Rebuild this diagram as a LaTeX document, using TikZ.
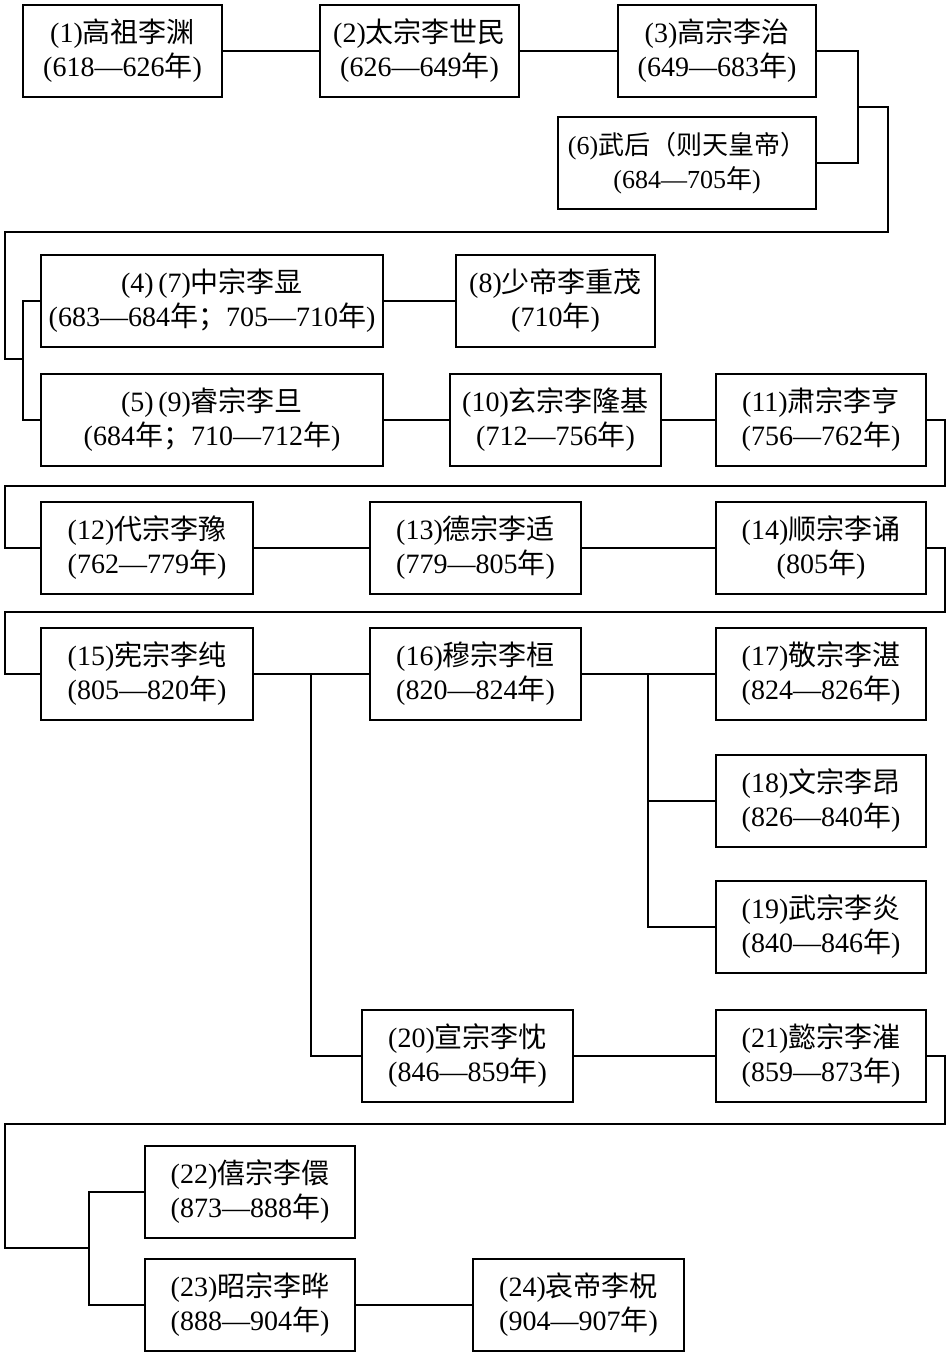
\documentclass[tikz,border=0pt]{standalone}
\usepackage{fontspec}
\setmainfont{Liberation Serif}
\newfontfamily\cjk{Noto Sans CJK SC}
\newcommand\zw[1]{{\cjk #1}}
\tikzset{
  box/.style={draw, line width=1.9pt, minimum height=92pt, inner sep=0pt, align=center,
    font=\fontsize{28}{34}\selectfont},
  link/.style={line width=1.6pt},
}
\begin{document}
\begin{tikzpicture}[x=1pt,y=-1pt]
\useasboundingbox (0,0) rectangle (950,1356);
% row 1
\node[box, minimum width=199pt] (b1) at (122.5,51) {(1)\zw{高祖李渊}\\(618—626\zw{年})};
\node[box, minimum width=199pt] (b2) at (419.5,51) {(2)\zw{太宗李世民}\\(626—649\zw{年})};
\node[box, minimum width=198pt] (b3) at (717,51) {(3)\zw{高宗李治}\\(649—683\zw{年})};
\node[box, minimum width=258pt, font=\fontsize{26}{34}\selectfont] (b6) at (687,163) {(6)\zw{武后（则天皇帝）}\\(684—705\zw{年})};
% row 2
\node[box, minimum width=342pt] (b4) at (212,301) {(4)\,(7)\zw{中宗李显}\\(683—684\zw{年；}705—710\zw{年})};
\node[box, minimum width=199pt] (b8) at (555.5,301) {(8)\zw{少帝李重茂}\\(710\zw{年})};
% row 3
\node[box, minimum width=342pt] (b5) at (212,420) {(5)\,(9)\zw{睿宗李旦}\\(684\zw{年；}710—712\zw{年})};
\node[box, minimum width=211pt] (b10) at (555.5,420) {(10)\zw{玄宗李隆基}\\(712—756\zw{年})};
\node[box, minimum width=210pt] (b11) at (821,420) {(11)\zw{肃宗李亨}\\(756—762\zw{年})};
% row 4
\node[box, minimum width=212pt] (b12) at (147,548) {(12)\zw{代宗李豫}\\(762—779\zw{年})};
\node[box, minimum width=211pt] (b13) at (475.5,548) {(13)\zw{德宗李适}\\(779—805\zw{年})};
\node[box, minimum width=210pt] (b14) at (821,548) {(14)\zw{顺宗李诵}\\(805\zw{年})};
% row 5
\node[box, minimum width=212pt] (b15) at (147,674) {(15)\zw{宪宗李纯}\\(805—820\zw{年})};
\node[box, minimum width=211pt] (b16) at (475.5,674) {(16)\zw{穆宗李桓}\\(820—824\zw{年})};
\node[box, minimum width=210pt] (b17) at (821,674) {(17)\zw{敬宗李湛}\\(824—826\zw{年})};
\node[box, minimum width=210pt] (b18) at (821,801) {(18)\zw{文宗李昂}\\(826—840\zw{年})};
\node[box, minimum width=210pt] (b19) at (821,927) {(19)\zw{武宗李炎}\\(840—846\zw{年})};
% row 6
\node[box, minimum width=211pt] (b20) at (467.5,1056) {(20)\zw{宣宗李忱}\\(846—859\zw{年})};
\node[box, minimum width=210pt] (b21) at (821,1056) {(21)\zw{懿宗李漼}\\(859—873\zw{年})};
% row 7
\node[box, minimum width=210pt] (b22) at (250,1192) {(22)\zw{僖宗李儇}\\(873—888\zw{年})};
\node[box, minimum width=210pt] (b23) at (250,1305) {(23)\zw{昭宗李晔}\\(888—904\zw{年})};
\node[box, minimum width=211pt] (b24) at (578.5,1305) {(24)\zw{哀帝李柷}\\(904—907\zw{年})};
% junction coordinates
\coordinate (j1) at (858,107);
\coordinate (j2) at (311,674);
\coordinate (j3) at (648,674);
\coordinate (j4) at (648,801);
% connectors
\draw[link] (b1.east) -- (b2.west);
\draw[link] (b2.east) -- (b3.west);
\draw[link] (b3.east) -- (858,51) |- (b6.east);
\draw[link] (j1) -- (888,107) -- (888,232) -- (5,232) |- (24,359);
\draw[link] (b4.west) -- ++(-17,0) |- (b5.west);
\draw[link] (b4.east) -- (b8.west);
\draw[link] (b5.east) -- (b10.west);
\draw[link] (b10.east) -- (b11.west);
\draw[link] (b11.east) -- (945,420) -- (945,486) -- (5,486) |- (b12.west);
\draw[link] (b12.east) -- (b13.west);
\draw[link] (b13.east) -- (b14.west);
\draw[link] (b14.east) -- (945,548) -- (945,612) -- (5,612) |- (b15.west);
\draw[link] (b15.east) -- (b16.west);
\draw[link] (b16.east) -- (b17.west);
\draw[link] (j2) |- (b20.west);
\draw[link] (j3) |- (b19.west);
\draw[link] (j4) -- (b18.west);
\draw[link] (b20.east) -- (b21.west);
\draw[link] (b21.east) -- (945,1056) -- (945,1124) -- (5,1124) |- (90,1248);
\draw[link] (b22.west) -- ++(-55,0) |- (b23.west);
\draw[link] (b23.east) -- (b24.west);
\end{tikzpicture}
\end{document}
